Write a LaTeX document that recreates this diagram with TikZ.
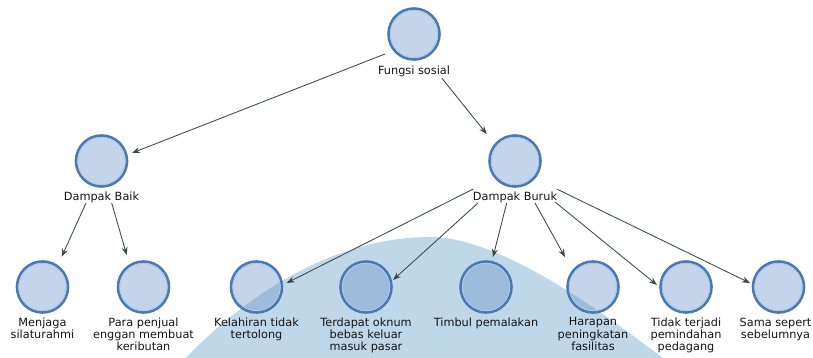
\documentclass[tikz,border=0pt]{standalone}
\usepackage{fontspec}
\setmainfont{DejaVu Sans}
\usetikzlibrary{arrows.meta}
\definecolor{domeblue}{RGB}{190,216,233}
\definecolor{bubfill}{RGB}{108,148,202}
\definecolor{ringblue}{RGB}{74,121,176}
\definecolor{ringlight}{RGB}{170,200,236}
\definecolor{linkgray}{RGB}{58,72,72}
\definecolor{labeltext}{RGB}{20,20,20}
\tikzset{
  bub/.style={circle, minimum size=51pt, inner sep=0pt, draw=ringblue,
    line width=2.6pt, fill=bubfill, fill opacity=0.4, draw opacity=1},
  hilite/.style={draw=ringlight, line width=0.9pt},
  lbl/.style={anchor=north, inner sep=0pt, align=center, text=labeltext,
    font=\fontsize{11.3}{12.3}\selectfont},
  link/.style={draw=linkgray, line width=0.85pt,
    -{Stealth[length=8pt,width=6pt]}},
}
\begin{document}
\begin{tikzpicture}[x=1pt,y=-1pt]
\path[use as bounding box] (0,0) rectangle (813,358);
\clip (0,0) rectangle (813,358);

% background dome
\fill[domeblue] (182,362) .. controls (240,300) and (330,237) .. (430,237)
  .. controls (500,237) and (600,310) .. (668,362) -- cycle;

% circles
\node[bub] (fs) at (414,34) {};
\node[bub] (db) at (101.5,161) {};
\node[bub] (dk) at (515,161) {};
\node[bub] (b1) at (42.5,287) {};
\node[bub] (b2) at (143.5,287) {};
\node[bub] (k1) at (256.5,287) {};
\node[bub] (k2) at (366,287) {};
\node[bub] (k3) at (486,287) {};
\node[bub] (k4) at (593,287) {};
\node[bub] (k5) at (686,287) {};
\node[bub] (k6) at (778.5,287) {};
\foreach \n in {fs,db,dk,b1,b2,k1,k2,k3,k4,k5,k6}
  \draw[hilite] (\n.center) circle[radius=23.7];

% labels
\node[lbl] (fsl) at ([yshift=-31.5pt]fs.center) {Fungsi sosial};
\node[lbl] (dbl) at ([yshift=-30.5pt]db.center) {Dampak Baik};
\node[lbl] (dkl) at ([yshift=-30.5pt]dk.center) {Dampak Buruk};
\node[lbl] (b1l) at ([yshift=-30.5pt]b1.center) {Menjaga\\silaturahmi};
\node[lbl] (b2l) at ([yshift=-30.5pt]b2.center) {Para penjual\\enggan membuat\\keributan};
\node[lbl] (k1l) at ([yshift=-30.5pt]k1.center) {Kelahiran tidak\\tertolong};
\node[lbl] (k2l) at ([yshift=-30.5pt]k2.center) {Terdapat oknum\\bebas keluar\\masuk pasar};
\node[lbl] (k3l) at ([yshift=-30.5pt]k3.center) {Timbul pemalakan};
\node[lbl] (k4l) at ([yshift=-30.5pt]k4.center) {Harapan\\peningkatan\\fasilitas};
\node[lbl] (k5l) at ([yshift=-30.5pt]k5.center) {Tidak terjadi\\pemindahan\\pedagang};
\node[lbl] (k6l) at ([shift={(-3pt,-30.5pt)}]k6.center) {Sama sepert\\sebelumnya};

% connectors
\draw[link] ([shift={(-29,20)}]fs.center) -- ([shift={(30.5,-8)}]db.center);
\draw[link] ([shift={(27.7,44)}]fs.center) -- ([shift={(-28.3,-27)}]dk.center);
\draw[link] ([shift={(-15.5,42)}]db.center) -- ([shift={(19.2,-30.3)}]b1.center);
\draw[link] ([shift={(10.2,42)}]db.center) -- ([shift={(-16.8,-32)}]b2.center);
\draw[link] ([shift={(-41.7,28)}]dk.center) -- ([shift={(30.2,-4)}]k1.center);
\draw[link] ([shift={(-37,42)}]dk.center) -- ([shift={(27,-7)}]k2.center);
\draw[link] ([shift={(-8.3,42)}]dk.center) -- ([shift={(7,-30)}]k3.center);
\draw[link] ([shift={(20,42)}]dk.center) -- ([shift={(-28,-30)}]k4.center);
\draw[link] ([shift={(40,41)}]dk.center) -- ([shift={(-29,-2)}]k5.center);
\draw[link] ([shift={(41.7,28)}]dk.center) -- ([shift={(-28.5,-4)}]k6.center);
\end{tikzpicture}
\end{document}
